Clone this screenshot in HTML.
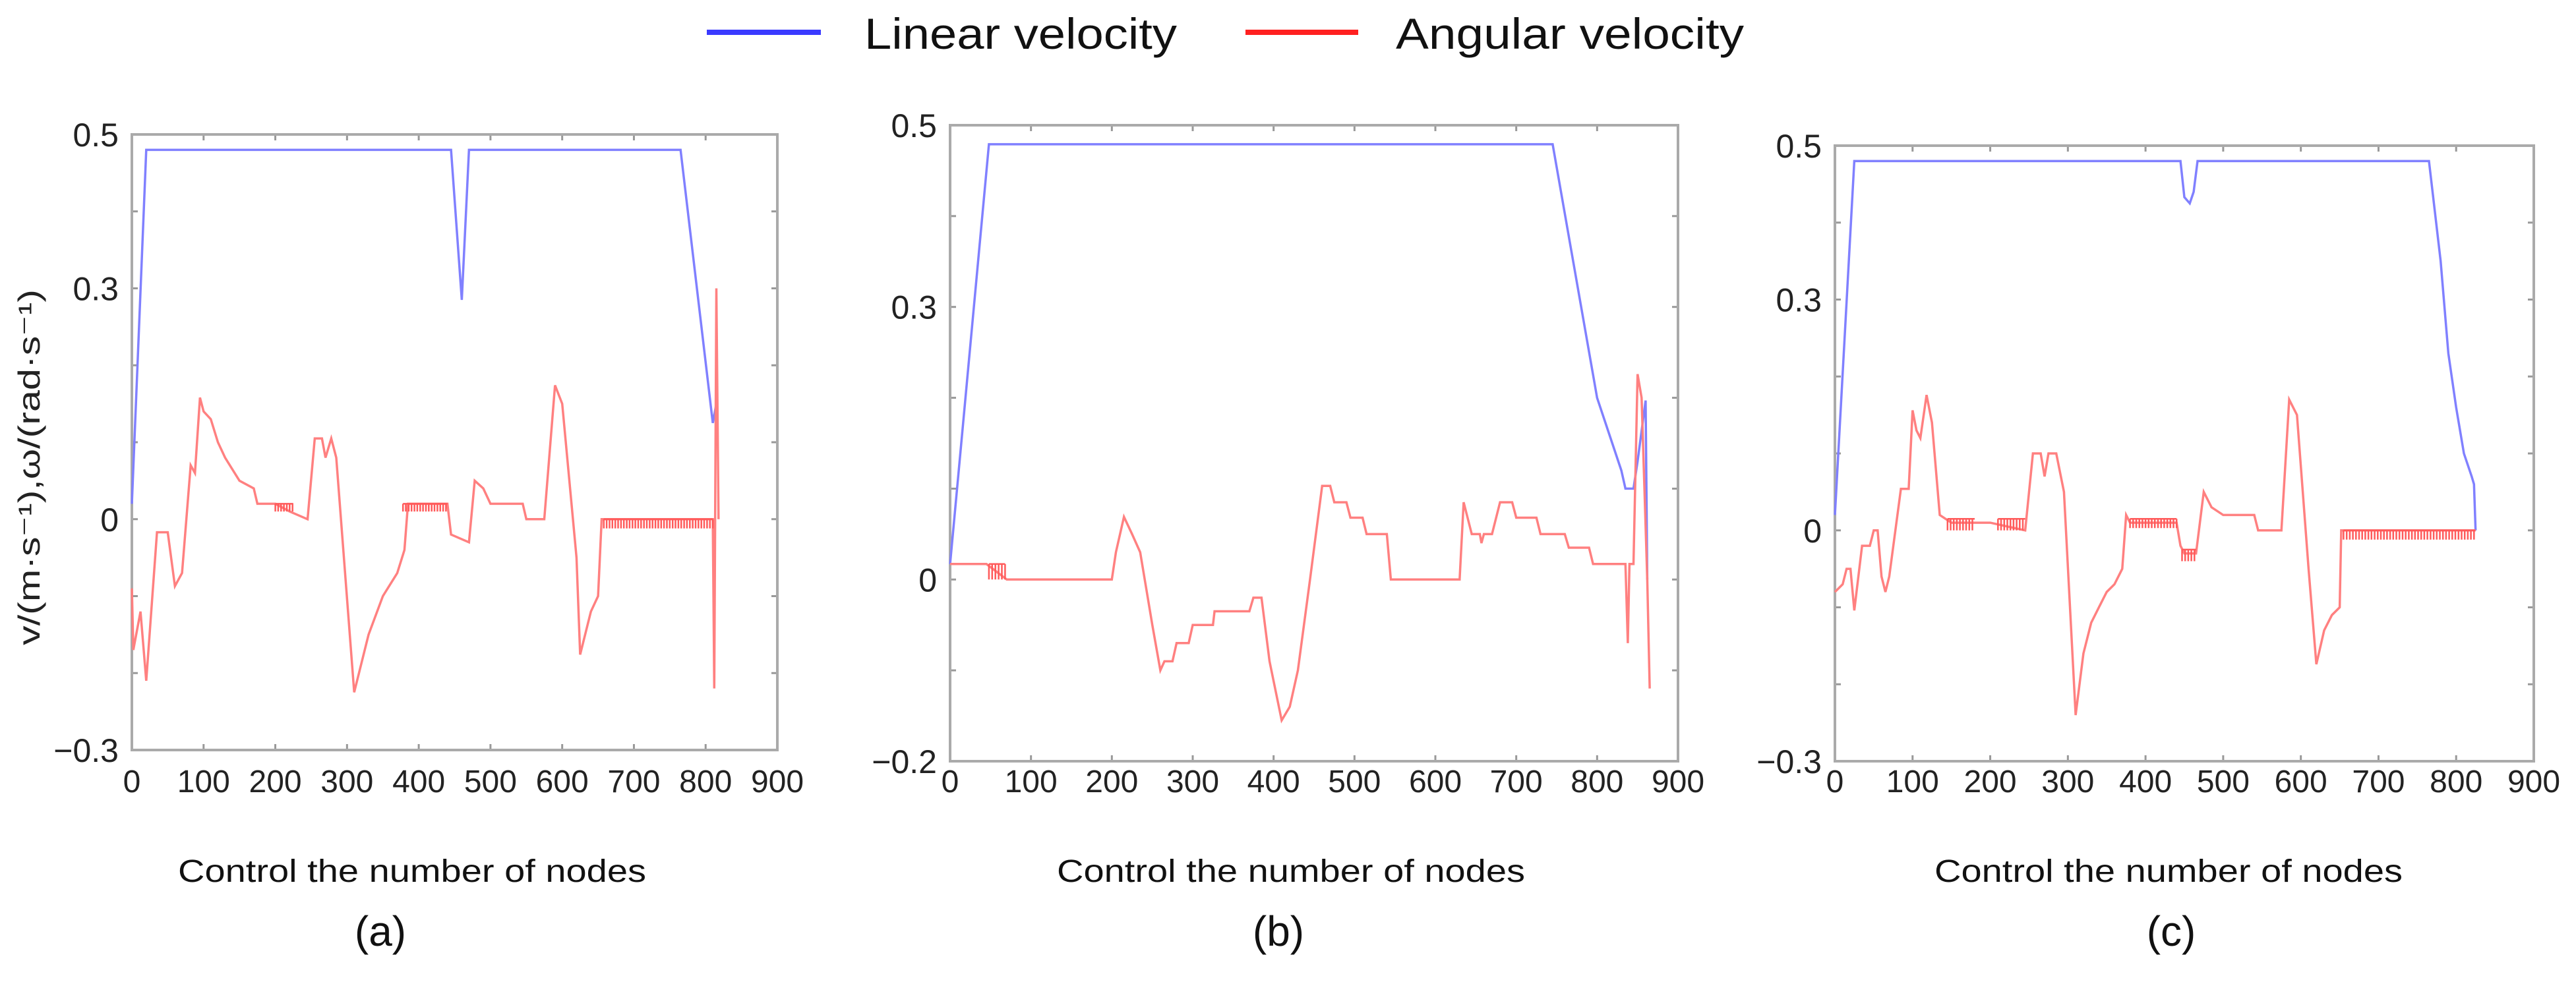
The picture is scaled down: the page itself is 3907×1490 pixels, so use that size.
<!DOCTYPE html>
<html><head><meta charset="utf-8"><style>
html,body{margin:0;padding:0;background:#fff;}
svg{display:block;font-family:"Liberation Sans",sans-serif;}
</style></head><body>
<svg id="fig" width="3907" height="1490" viewBox="0 0 3907 1490">
<g>
 <line x1="1072" y1="49" x2="1245" y2="49" stroke="#3a3aff" stroke-width="8"/>
 <text x="1311" y="74" font-size="66" textLength="474" lengthAdjust="spacingAndGlyphs" fill="#111">Linear velocity</text>
 <line x1="1889" y1="49" x2="2060" y2="49" stroke="#ff2020" stroke-width="8"/>
 <text x="2117" y="74" font-size="66" textLength="528" lengthAdjust="spacingAndGlyphs" fill="#111">Angular velocity</text>
</g>
<text transform="translate(60,709) rotate(-90)" text-anchor="middle" font-size="46" textLength="540" lengthAdjust="spacingAndGlyphs" fill="#222">v/(m·s⁻¹),ω/(rad·s⁻¹)</text>
</svg>
<script>
// Panel (a)
const aLinX=[0,20,445,460,470,765,810,815];
const aLinY=[0.02,0.48,0.48,0.285,0.48,0.48,0.125,0.15];
const aAngX=[0,2,12,20,35,50,60,70,82,88,95,100,110,120,130,150,170,175,200,220,245,255,265,270,278,285,310,330,350,370,380,385,440,445,470,478,490,500,545,550,575,590,600,620,625,640,650,655,810,812,815,818];
const aAngY=[-0.09,-0.17,-0.12,-0.21,-0.017,-0.017,-0.087,-0.07,0.07,0.06,0.158,0.14,0.13,0.1,0.08,0.05,0.04,0.02,0.02,0.01,0,0.105,0.105,0.08,0.105,0.08,-0.225,-0.15,-0.1,-0.07,-0.04,0.02,0.02,-0.02,-0.03,0.05,0.04,0.02,0.02,0,0,0.174,0.15,-0.05,-0.176,-0.12,-0.1,0,0,-0.22,0.3,0];
const aChatStart=[200,378,658];
const aChatEnd=[225,440,810];
const aChatLevel=[0.02,0.02,0];
const aChatDepth=[0.01,0.01,0.012];
const aYTicks=[0.5,0.3,0,-0.3];
// Panel (b)
const bLinX=[0,48,745,800,830,835,845,850,860,862];
const bLinY=[0.017,0.479,0.479,0.2,0.12,0.1,0.1,0.13,0.197,0];
const bAngX=[0,45,70,200,205,215,225,235,250,260,265,275,280,295,300,325,327,370,375,385,395,410,420,430,445,460,470,475,490,495,510,515,540,545,630,635,645,655,657,660,670,680,695,700,725,730,760,765,790,795,835,838,840,845,850,855,862,865];
const bAngY=[0.017,0.017,0,0,0.03,0.069,0.05,0.03,-0.05,-0.1,-0.09,-0.09,-0.07,-0.07,-0.05,-0.05,-0.035,-0.035,-0.02,-0.02,-0.09,-0.155,-0.14,-0.1,0,0.103,0.103,0.085,0.085,0.068,0.068,0.05,0.05,0,0,0.085,0.05,0.05,0.04,0.05,0.05,0.085,0.085,0.068,0.068,0.05,0.05,0.035,0.035,0.017,0.017,-0.07,0.017,0.017,0.226,0.2,0,-0.12];
const bChatStart=[48];
const bChatEnd=[68];
const bChatLevel=[0.017];
const bChatDepth=[0.017];
const bYTicks=[0.5,0.3,0,-0.2];
// Panel (c)
const cLinX=[0,25,445,450,457,462,467,765,780,790,800,810,820,823,825];
const cLinY=[0.02,0.48,0.48,0.433,0.425,0.44,0.48,0.48,0.35,0.23,0.16,0.1,0.07,0.06,0];
const cAngX=[0,10,15,20,25,35,45,50,55,60,65,70,85,95,100,105,110,118,125,135,150,200,245,255,265,270,275,285,295,310,320,330,340,350,360,370,375,380,440,445,450,465,475,485,500,540,545,575,585,595,610,620,630,640,650,652,825];
const cAngY=[-0.08,-0.07,-0.05,-0.05,-0.104,-0.02,-0.02,0,0,-0.06,-0.08,-0.06,0.054,0.054,0.156,0.13,0.12,0.176,0.14,0.02,0.01,0.01,0,0.1,0.1,0.07,0.1,0.1,0.05,-0.24,-0.16,-0.12,-0.1,-0.08,-0.07,-0.05,0.02,0.01,0.01,-0.02,-0.03,-0.03,0.05,0.03,0.02,0.02,0,0,0.17,0.15,-0.05,-0.174,-0.13,-0.11,-0.1,0,0];
const cChatStart=[145,210,380,447,655];
const cChatEnd=[180,245,440,465,825];
const cChatLevel=[0.015,0.015,0.015,-0.025,0];
const cChatDepth=[0.015,0.015,0.012,0.015,0.012];
const cYTicks=[0.5,0.3,0,-0.3];
const xTicks=[0,100,200,300,400,500,600,700,800,900];

const NS="http://www.w3.org/2000/svg";
const svg=document.getElementById('fig');
function mk(tag,attrs,parent){const e=document.createElementNS(NS,tag);for(const k in attrs)e.setAttribute(k,attrs[k]);(parent||svg).appendChild(e);return e;}
function fmt(v){return v<0?'\u2212'+String(-v):String(v);}

function panel(id,box,ymin,ymax,yticks,linX,linY,angX,angY,chS,chE,chL,chD,title,tcx,lcx){
  const g=mk('g',{});
  
  
  const X=v=>box.l+(v-0)/(900-0)*(box.r-box.l);
  const Y=v=>box.b-(v-ymin)/(ymax-ymin)*(box.b-box.t);
  for(let k=Math.round(ymin*10);k<=Math.round(ymax*10);k++){
    const y=Y(k/10);
    const t1=mk('line',{x1:box.l,x2:box.l+9,y1:y,y2:y,stroke:'#999','stroke-width':3},g);
    
    
    const t2=mk('line',{x1:box.r-9,x2:box.r,y1:y,y2:y,stroke:'#999','stroke-width':3},g);
    
    
  }
  xTicks.forEach(v=>{
    const x=X(v);
    const t1=mk('line',{x1:x,x2:x,y1:box.b,y2:box.b-9,stroke:'#999','stroke-width':3},g);
    
    
    const t2=mk('line',{x1:x,x2:x,y1:box.t,y2:box.t+9,stroke:'#999','stroke-width':3},g);
    
    
    const lb=mk('text',{x:x,y:1202,'text-anchor':'middle','font-size':48,fill:'#222'},g);
    
    
    lb.textContent=String(v);
  });
  yticks.forEach(v=>{
    const lb=mk('text',{x:box.l-20,y:Y(v)+18,'text-anchor':'end','font-size':50,fill:'#222'},g);
    
    
    lb.textContent=fmt(v);
  });
  const fr=mk('rect',{x:box.l,y:box.t,width:box.r-box.l,height:box.b-box.t,fill:'none',stroke:'#aaa','stroke-width':4},g);
  
  
  const lp=linX.map((x,i)=>X(x).toFixed(1)+','+Y(linY[i]).toFixed(1)).join(' ');
  const l1=mk('polyline',{points:lp,fill:'none',stroke:'#8080ff','stroke-width':3.5},g);
  
  
  const ap=angX.map((x,i)=>X(x).toFixed(1)+','+Y(angY[i]).toFixed(1)).join(' ');
  const l2=mk('polyline',{points:ap,fill:'none',stroke:'#ff8080','stroke-width':3.5},g);
  
  
  chS.forEach((s,i)=>{
    let d='';
    for(let x=s;x<=chE[i];x+=4){d+='M'+X(x).toFixed(1)+','+Y(chL[i]).toFixed(1)+'V'+Y(chL[i]-chD[i]).toFixed(1);}
    d+='M'+X(s).toFixed(1)+','+Y(chL[i]).toFixed(1)+'H'+X(chE[i]).toFixed(1);
    const p=mk('path',{d:d,fill:'none',stroke:'#ff5a5a','stroke-width':2.5},g);
    
    
  });
  const xt=mk('text',{x:tcx,y:1338,'text-anchor':'middle','font-size':48,textLength:710,lengthAdjust:'spacingAndGlyphs',fill:'#111'},g);
  
  
  xt.textContent='Control the number of nodes';
  const pl=mk('text',{x:lcx,y:1435,'text-anchor':'middle','font-size':64,fill:'#111'},g);
  
  
  pl.textContent=title;
}
panel('a',{l:200,r:1179,t:204,b:1138},-0.3,0.5,aYTicks,aLinX,aLinY,aAngX,aAngY,aChatStart,aChatEnd,aChatLevel,aChatDepth,'(a)',625,577);
panel('b',{l:1441,r:2545,t:190,b:1155},-0.2,0.5,bYTicks,bLinX,bLinY,bAngX,bAngY,bChatStart,bChatEnd,bChatLevel,bChatDepth,'(b)',1958,1939);
panel('c',{l:2783,r:3843,t:221,b:1155},-0.3,0.5,cYTicks,cLinX,cLinY,cAngX,cAngY,cChatStart,cChatEnd,cChatLevel,cChatDepth,'(c)',3289,3293);
</script>
</body></html>
